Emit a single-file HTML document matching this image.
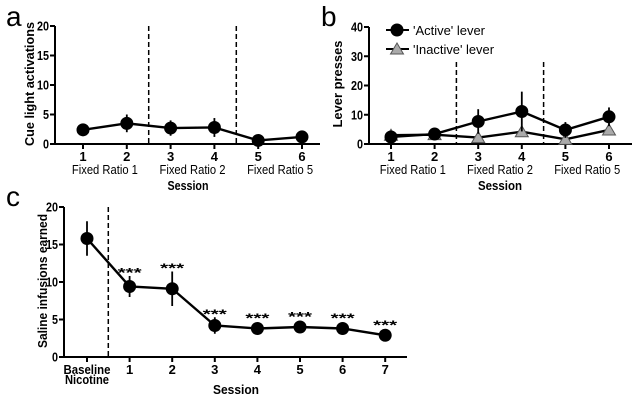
<!DOCTYPE html>
<html><head><meta charset="utf-8"><style>
html,body{margin:0;padding:0;background:#fff;}
svg{display:block;font-family:"Liberation Sans",Arial,sans-serif;}
.t{font-size:13px;font-weight:bold;}
.n{font-size:13px;}
</style></head><body>
<svg id="fig" width="641" height="403" viewBox="0 0 641 403" xmlns="http://www.w3.org/2000/svg"></svg>
<script>
const sessionsAB = ['1','2','3','4','5','6'];
const phaseLabels = ['Fixed Ratio 1','Fixed Ratio 2','Fixed Ratio 5'];
const cueMean = [2.4,3.5,2.7,2.8,0.6,1.2];
const cueErr = [0.5,1.5,1.3,1.6,0.5,0.5];
const activeMean = [2.4,3.4,7.7,11.1,4.8,9.3];
const activeErr = [1.5,0.8,4.2,6.8,2.7,3.2];
const inactiveMean = [3.0,3.2,2.2,4.2,1.6,4.8];
const sessionsC = ['Baseline','1','2','3','4','5','6','7'];
const salineMean = [15.8,9.4,9.1,4.2,3.8,4.0,3.8,2.9];
const salineErr = [2.3,1.4,2.3,1.1,0.3,0.3,0.6,0.3];
const sigC = ['','***','***','***','***','***','***','***'];
const ticksA = [0,5,10,15,20];
const ticksB = [0,10,20,30,40];
const ticksC = [0,5,10,15,20];

const NS='http://www.w3.org/2000/svg';
const svg=document.getElementById('fig');
function mk(tag,attrs,parent){const e=document.createElementNS(NS,tag);for(const k in attrs)e.setAttribute(k,attrs[k]);(parent||svg).appendChild(e);return e;}
function txt(s,x,y,cls,anchor,parent){const e=mk('text',{x:x,y:y,class:cls,'text-anchor':anchor||'middle'},parent);e.textContent=s;return e;}
function fit(e,len){e.setAttribute('textLength',len);e.setAttribute('lengthAdjust','spacingAndGlyphs');}

function panel(cfg){
  const g=mk('g',{});
  
  
  const xs=i=>cfg.x0+i*cfg.dx;
  const ys=v=>cfg.yb-(v/cfg.ymax)*(cfg.yb-cfg.yt);
  const ax=mk('path',{d:`M${cfg.ax} ${cfg.yt}V${cfg.yb}H${cfg.axEnd}`,stroke:'#000','stroke-width':2,fill:'none'},g);
  
  
  cfg.yticks.forEach(v=>{
    mk('line',{x1:cfg.ax-5,x2:cfg.ax,y1:ys(v),y2:ys(v),stroke:'#000','stroke-width':2},g);
    const s=String(v);
    const t=txt(s,cfg.ax-6,ys(v)+4.5,'t','end',g);
    t.setAttribute('font-size','12');
    fit(t,s.length*6);
    
    
  });
  cfg.cats.forEach((c,i)=>{
    mk('line',{x1:xs(i),x2:xs(i),y1:cfg.yb,y2:cfg.yb+5,stroke:'#000','stroke-width':2},g);
    const t=txt(c,xs(i),cfg.yb+17,'t','middle',g);
    if(c.length>3)fit(t,47);
    
    
  });
  cfg.dashes.forEach(d=>{
    const l=mk('line',{x1:xs(d),x2:xs(d),y1:cfg.dashTop,y2:cfg.yb,stroke:'#000','stroke-width':1.5,'stroke-dasharray':'5,3'},g);
    
    
  });
  const yt=txt(cfg.ytitle,0,0,'t','middle',g);
  yt.setAttribute('transform',`translate(${cfg.ytx},${cfg.ytc}) rotate(-90)`);
  yt.setAttribute('font-size','14');
  fit(yt,cfg.ytlen);
  
  
  const xt=txt('Session',cfg.xtx,cfg.xty,'t','middle',g);
  xt.setAttribute('font-size','15');
  fit(xt,cfg.xtlen);
  
  
  return {g,xs,ys};
}
function series(p,mean,err,shape,name){
  const pts=mean.map((v,i)=>p.xs(i)+','+p.ys(v)).join(' ');
  const l=mk('polyline',{points:pts,fill:'none',stroke:'#000','stroke-width':2.4},p.g);
  
  
  mean.forEach((v,i)=>{
    if(err){
      const e=mk('line',{x1:p.xs(i),x2:p.xs(i),y1:p.ys(v-err[i]),y2:p.ys(v+err[i]),stroke:'#000','stroke-width':1.8},p.g);
      
      
    }
    let m;
    if(shape==='c'){m=mk('circle',{cx:p.xs(i),cy:p.ys(v),r:6.5,fill:'#000'},p.g);}
    else{const x=p.xs(i),y=p.ys(v);m=mk('polygon',{points:`${x},${y-6} ${x+6.5},${y+5} ${x-6.5},${y+5}`,fill:'#aaa',stroke:'#555','stroke-width':1},p.g);}
    
    
  });
}
function letter(s,x,y){const t=txt(s,x,y,'','start');t.setAttribute('font-size','28');}
function phase(p,s,k){const t=txt(s,p.xs(2*k+0.5),174,'n','middle',p.g);fit(t,66);}

// Panel a
const pa=panel({name:'panel-a',cats:sessionsAB,x0:83,dx:43.8,ax:55,axEnd:320,yt:26,yb:144,ymax:20,yticks:ticksA,dashes:[1.5,3.5],dashTop:26,ytitle:'Cue light activations',ytx:34,ytc:84,ytlen:124,xtx:188,xty:190,xtlen:41});
series(pa,cueMean,cueErr,'c','cue-light');
phaseLabels.forEach((s,k)=>phase(pa,s,k));
letter('a',6,26);

// Panel b
const pb=panel({name:'panel-b',cats:sessionsAB,x0:391,dx:43.6,ax:369,axEnd:632,yt:27,yb:144,ymax:40,yticks:ticksB,dashes:[1.5,3.5],dashTop:62,ytitle:'Lever presses',ytx:342,ytc:84,ytlen:87,xtx:500,xty:190,xtlen:44});
series(pb,inactiveMean,null,'t','inactive-lever');
series(pb,activeMean,activeErr,'c','active-lever');
phaseLabels.forEach((s,k)=>phase(pb,s,k));
const lg=mk('g',{});


mk('line',{x1:386,x2:409,y1:30,y2:30,stroke:'#000','stroke-width':2},lg);
mk('circle',{cx:397,cy:30,r:6.5,fill:'#000'},lg);
const l1=txt("'Active' lever",413,35,'n','start',lg);l1.setAttribute('font-size','14');fit(l1,72);
mk('line',{x1:386,x2:409,y1:49,y2:49,stroke:'#000','stroke-width':2},lg);
mk('polygon',{points:'397,43 403.5,54 390.5,54',fill:'#aaa',stroke:'#555','stroke-width':1},lg);
const l2=txt("'Inactive' lever",413,54,'n','start',lg);l2.setAttribute('font-size','14');fit(l2,81);
letter('b',321,26);

// Panel c
const pc=panel({name:'panel-c',cats:sessionsC,x0:87,dx:42.6,ax:64,axEnd:407,yt:207,yb:357,ymax:20,yticks:ticksC,dashes:[0.5],dashTop:207,ytitle:'Saline infusions earned',ytx:47,ytc:281,ytlen:134,xtx:236,xty:394,xtlen:46});
series(pc,salineMean,salineErr,'c','saline-infusions');
const nic=txt('Nicotine',pc.xs(0),384,'t','middle',pc.g);
fit(nic,44);


sigC.forEach((s,i)=>{if(!s)return;const top=Math.min(pc.ys(salineMean[i]+salineErr[i]),pc.ys(salineMean[i])-7);const t=txt(s,pc.xs(i),top+1,'t','middle',pc.g);t.setAttribute('font-size','17');fit(t,24);});
letter('c',6,206);
</script>
</body></html>
